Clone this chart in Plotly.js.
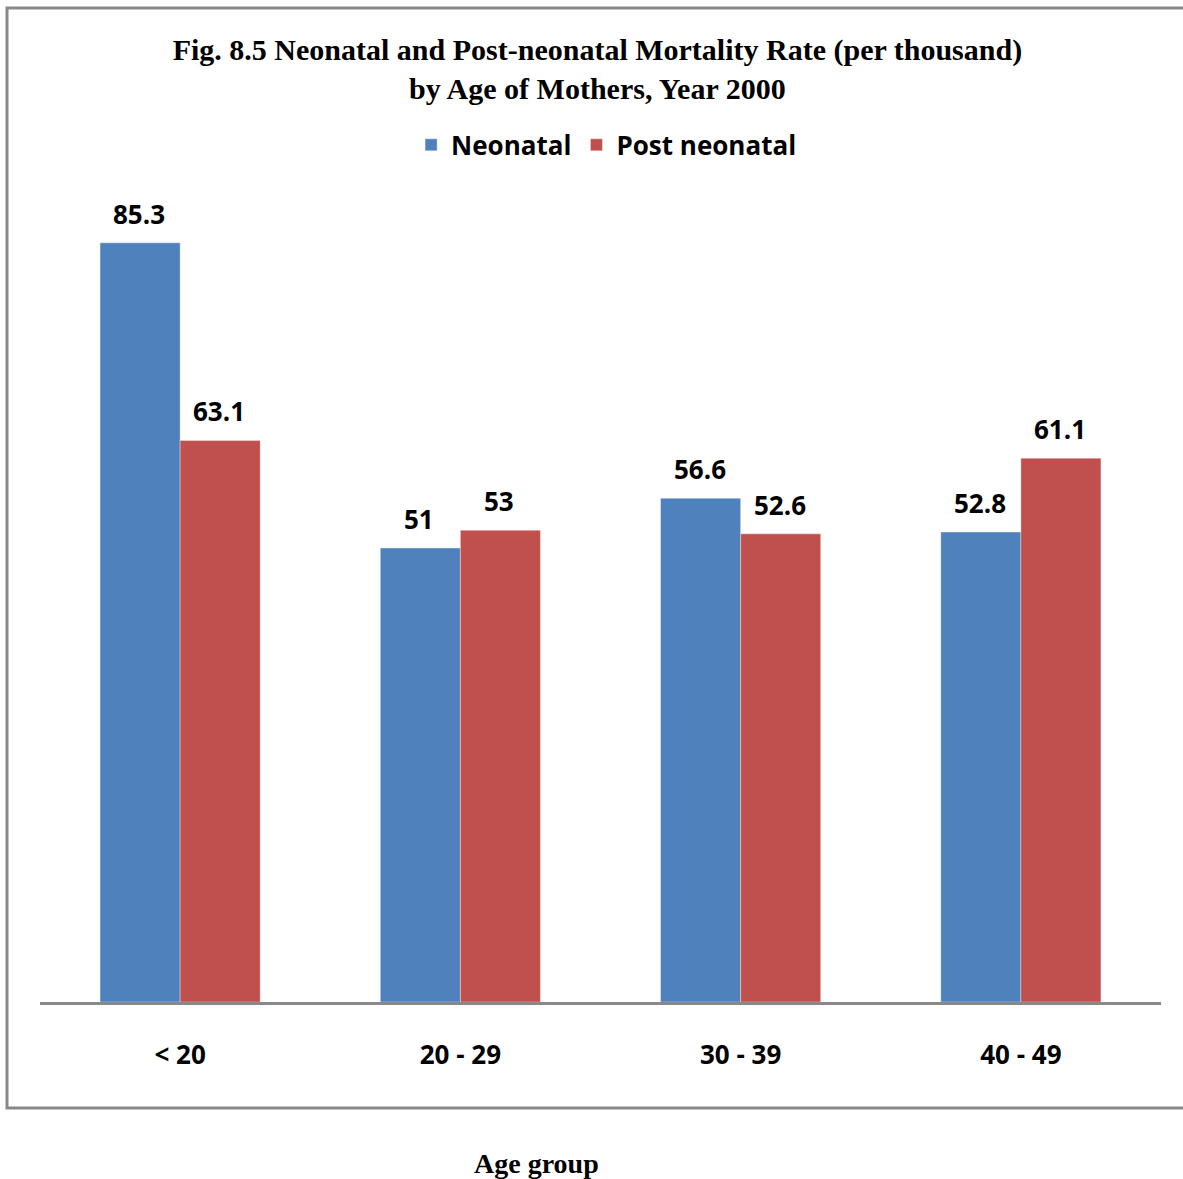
<!DOCTYPE html>
<html>
<head>
<meta charset="utf-8">
<script src="https://cdn.plot.ly/plotly-3.0.1.min.js"></script>
<style>
  html, body { margin: 0; padding: 0; background: #ffffff; }
  #chart { width: 1183px; height: 1179px; }
</style>
</head>
<body>
<div id="chart"></div>
<script>
// Age groups of mothers
const ageGroups = ['< 20', '20 - 29', '30 - 39', '40 - 49'];
// Mortality rate per thousand live births
const neonatal = [85.3, 51, 56.6, 52.8];
const postNeonatal = [63.1, 53, 52.6, 61.1];
const seriesNames = ['Neonatal', 'Post neonatal'];

const labelFont = { family: '"Open Sans", "Noto Sans", sans-serif', size: 26, color: '#000000', weight: 700 };
const serifFont = { family: '"Liberation Serif", "Times New Roman", serif', color: '#000000', weight: 700 };

const blue = '#4F81BD';
const red = '#C0504D';

const traces = [
  {
    type: 'bar', name: seriesNames[0], x: ageGroups, y: neonatal,
    marker: { color: blue, line: { color: 'rgba(255,255,255,0.35)', width: 1 } },
    hoverinfo: 'x+y+name'
  },
  {
    type: 'bar', name: seriesNames[1], x: ageGroups, y: postNeonatal,
    marker: { color: red, line: { color: 'rgba(255,255,255,0.35)', width: 1 } },
    hoverinfo: 'x+y+name'
  }
];

// Value labels above each bar
const annotations = [];
[neonatal, postNeonatal].forEach((vals, s) => {
  vals.forEach((v, i) => {
    annotations.push({
      x: ageGroups[i], y: v, xref: 'x', yref: 'y',
      text: String(v), showarrow: false,
      xshift: s === 0 ? -41 : 39, yshift: 29, yanchor: 'middle',
      font: labelFont
    });
  });
});

// Axis caption below the frame
annotations.push({
  x: 0.4425, y: -0.201, xref: 'paper', yref: 'paper',
  text: 'Age group', showarrow: false,
  xanchor: 'center', yanchor: 'middle',
  font: Object.assign({ size: 28 }, serifFont)
});

const layout = {
  width: 1183, height: 1179,
  margin: { l: 40, r: 22, t: 201, b: 177 },
  paper_bgcolor: '#ffffff', plot_bgcolor: '#ffffff',
  barmode: 'group', bargap: 0.4286, bargroupgap: 0,
  showlegend: true,
  title: {
    text: 'Fig. 8.5 Neonatal and Post-neonatal Mortality Rate (per thousand)<br>by Age of Mothers, Year 2000',
    xref: 'container', yref: 'container', x: 0.505, y: 1 - 60 / 1179,
    xanchor: 'center', yanchor: 'middle',
    font: Object.assign({ size: 30 }, serifFont)
  },
  legend: {
    orientation: 'h', x: 0.505, xanchor: 'center', y: 1.07, yanchor: 'middle',
    font: labelFont, itemclick: false, traceorder: 'normal',
    bgcolor: 'rgba(0,0,0,0)'
  },
  xaxis: {
    type: 'category', showgrid: false, zeroline: false,
    showline: true, linecolor: '#898989', linewidth: 3,
    ticks: '', ticklabelstandoff: 28,
    tickfont: labelFont,
    fixedrange: true
  },
  yaxis: {
    range: [0, 90], showgrid: false, zeroline: false, showline: false,
    showticklabels: false, ticks: '', fixedrange: true
  },
  shapes: [{
    type: 'rect', xref: 'paper', yref: 'paper',
    x0: (7 - 40) / 1121, x1: (1200 - 40) / 1121,
    y0: (1002 - 1108) / 801, y1: (1002 - 8) / 801,
    line: { color: '#898989', width: 3 }, fillcolor: 'rgba(0,0,0,0)', layer: 'below'
  }],
  annotations: annotations
};

Plotly.newPlot('chart', traces, layout, { displayModeBar: false, staticPlot: true });
</script>
</body>
</html>
